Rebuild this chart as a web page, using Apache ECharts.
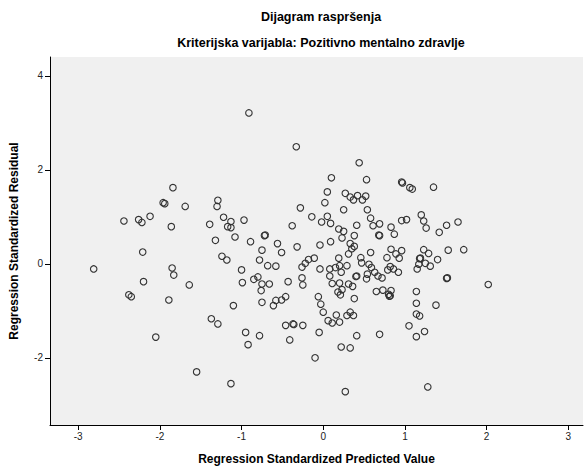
<!DOCTYPE html>
<html><head><meta charset="utf-8">
<script src="https://cdn.jsdelivr.net/npm/echarts@6/dist/echarts.min.js"></script>
<style>html,body{margin:0;padding:0;background:#fff}#c{width:586px;height:470px}</style>
</head><body><div id="c"></div>
<script>
const titleText = 'Dijagram raspršenja';
const subtitleText = 'Kriterijska varijabla: Pozitivno mentalno zdravlje';
const xAxisTitle = 'Regression Standardized Predicted Value';
const yAxisTitle = 'Regression Standardized Residual';
const xTicks = [-3, -2, -1, 0, 1, 2, 3];
const yTicks = [-2, 0, 2, 4];
const predicted = [
-1.84,-1.96,-1.94,-2.12,-0.91,-1.69,-1.29,-1.30,-0.33,0.44,0.10,0.53,0.96,0.97,1.06,1.09,0.05,0.27,0.33,0.37,
0.42,0.48,0.52,0.02,-0.28,0.25,0.54,1.35,-2.44,-2.26,-2.22,-1.86,-2.21,-2.81,-1.85,-1.83,-2.20,-2.38,-2.35,-1.89,
-1.39,-1.22,-1.13,-1.17,-1.13,-0.97,-1.32,-1.08,-0.89,-0.71,-0.72,-0.75,-0.56,-0.51,-1.24,-1.18,-0.78,-0.68,-0.58,-1.00,
-0.80,-0.85,-0.99,-0.75,-0.66,-0.76,-0.43,-1.64,-1.10,-0.75,-0.58,-0.61,-0.51,-0.46,-1.37,-1.29,-0.46,-0.14,0.05,-0.02,
0.09,-0.38,0.19,0.25,0.23,0.41,0.58,0.61,0.69,0.68,0.69,0.83,0.87,0.96,0.38,0.09,-0.04,-0.32,0.33,0.35,
0.38,0.31,0.58,0.83,0.89,0.96,0.78,0.93,0.46,0.47,0.19,-0.11,-0.18,-0.22,-0.26,-0.04,0.08,0.15,0.20,0.29,
0.22,0.08,0.56,0.59,0.63,0.40,0.41,0.54,0.53,0.67,0.72,0.79,0.82,0.86,0.92,-0.26,-0.25,0.11,0.20,0.31,
0.36,0.23,0.18,0.21,0.65,0.73,0.83,0.80,0.82,0.81,-0.06,0.38,-0.03,0.00,0.16,0.29,0.33,0.37,0.06,0.11,
0.20,-0.37,-0.36,-0.25,1.02,1.20,1.23,1.26,1.42,1.51,1.65,1.23,1.29,1.18,1.19,1.17,1.25,1.31,1.15,1.40,
1.53,1.72,1.52,1.51,2.02,1.14,1.14,1.38,1.14,1.18,1.05,1.24,1.14,1.28,-2.05,-0.95,-0.78,-0.92,-0.41,-1.55,
-1.13,-0.05,0.41,0.69,0.22,0.33,-0.10,0.27
];
const residual = [
1.62,1.30,1.28,1.01,3.21,1.22,1.35,1.22,2.49,2.15,1.83,1.79,1.74,1.72,1.62,1.59,1.53,1.50,1.42,1.36,
1.45,1.36,1.44,1.30,1.19,1.15,1.15,1.63,0.91,0.94,0.88,0.79,0.25,-0.11,-0.09,-0.24,-0.38,-0.66,-0.70,-0.77,
0.84,0.99,0.90,0.79,0.77,0.93,0.50,0.57,0.47,0.61,0.60,0.29,0.43,0.24,0.16,0.08,0.08,-0.04,-0.05,-0.13,
-0.28,-0.33,-0.40,-0.43,-0.43,-0.57,-0.38,-0.45,-0.89,-0.82,-0.78,-0.89,-0.77,-0.70,-1.17,-1.28,-1.31,1.00,1.01,0.89,
0.86,0.81,0.74,0.69,0.55,0.82,0.97,0.81,0.85,0.61,0.60,0.78,0.63,0.92,0.60,0.47,0.40,0.36,0.43,0.32,
0.37,0.21,0.24,0.31,0.21,0.28,0.13,0.12,0.13,0.02,0.12,0.12,0.09,0.01,-0.07,-0.11,-0.11,-0.08,-0.04,-0.04,
-0.18,-0.26,-0.01,-0.08,-0.18,-0.27,-0.26,-0.22,-0.32,-0.26,-0.30,-0.13,-0.06,-0.11,-0.18,-0.30,-0.45,-0.42,-0.41,-0.43,
-0.48,-0.55,-0.60,-0.66,-0.59,-0.56,-0.57,-0.65,-0.68,-0.69,-0.70,-0.74,-0.86,-1.03,-1.09,-1.10,-1.03,-1.10,-1.21,-1.26,
-1.24,-1.28,-1.29,-1.31,0.94,1.04,0.91,0.76,0.67,0.82,0.89,0.30,0.22,0.11,0.12,-0.01,0.01,-0.05,-0.11,0.09,
0.29,0.30,-0.30,-0.31,-0.44,-0.59,-0.84,-0.88,-1.07,-1.11,-1.32,-1.44,-1.55,-2.62,-1.56,-1.46,-1.53,-1.72,-1.62,-2.30,
-2.55,-1.46,-1.53,-1.50,-1.77,-1.79,-2.00,-2.72
];
const points = predicted.map((x, i) => [x, residual[i]]);
const FONT = '"Liberation Sans", Arial, sans-serif';
const chart = echarts.init(document.getElementById('c'), null, {renderer: 'svg'});
chart.setOption({
  animation: false,
  backgroundColor: '#ffffff',
  title: [
    {text: titleText, left: 316, top: 5, textAlign: 'center',
     textStyle: {fontFamily: FONT, fontSize: 12.5, fontWeight: 'bold', color: '#000'}},
    {text: subtitleText, left: 316, top: 31, textAlign: 'center',
     textStyle: {fontFamily: FONT, fontSize: 12.5, fontWeight: 'bold', color: '#000'}}
  ],
  grid: {left: 50, right: 3, top: 57, bottom: 45, show: true, backgroundColor: '#f0f0f0', borderWidth: 0},
  xAxis: {
    type: 'value', min: -3.345, max: 3.18,
    name: xAxisTitle, nameLocation: 'middle', nameGap: 28,
    nameTextStyle: {fontFamily: FONT, fontSize: 12, fontWeight: 'bold', color: '#000'},
    splitLine: {show: false},
    axisLine: {show: true, onZero: false, lineStyle: {color: '#000', width: 1}},
    axisTick: {show: true, length: 5, customValues: xTicks, lineStyle: {color: '#000'}},
    axisLabel: {customValues: xTicks, fontFamily: FONT, fontSize: 10, color: '#222', margin: 6}
  },
  yAxis: {
    type: 'value', min: -3.43, max: 4.40,
    name: yAxisTitle, nameLocation: 'middle', nameGap: 30, nameRotate: 90,
    nameTextStyle: {fontFamily: FONT, fontSize: 12, fontWeight: 'bold', color: '#000'},
    splitLine: {show: false},
    axisLine: {show: true, onZero: false, lineStyle: {color: '#000', width: 1}},
    axisTick: {show: true, length: 5, customValues: yTicks, lineStyle: {color: '#000'}},
    axisLabel: {customValues: yTicks, fontFamily: FONT, fontSize: 10, color: '#222', margin: 7}
  },
  series: [{
    type: 'scatter', data: points, symbol: 'circle', symbolSize: 6.5,
    itemStyle: {color: 'rgba(0,0,0,0)', borderColor: '#333', borderWidth: 1.1, opacity: 1}
  }]
});
</script></body></html>
